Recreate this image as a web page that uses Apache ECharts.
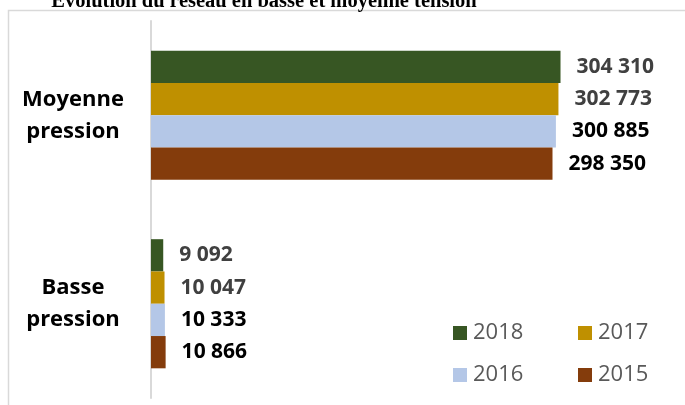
<!DOCTYPE html>
<html>
<head>
<meta charset="utf-8">
<script src="https://cdn.jsdelivr.net/npm/echarts@6/dist/echarts.min.js"></script>
<style>
    html, body { margin: 0; padding: 0; background: #fff; }
    #chart { width: 685px; height: 405px; }
</style>
</head>
<body>
<div id="chart"></div>
<script>
    let categories = ['Moyenne\npression', 'Basse\npression'];
    let years = ['2018', '2017', '2016', '2015'];
    let colors = ['#375623', '#bf9000', '#b4c7e7', '#843c0c'];
    let labelColors = ['#404040', '#404040', '#000000', '#000000'];
    let values2018 = [304310, 9092];
    let values2017 = [302773, 10047];
    let values2016 = [300885, 10333];
    let values2015 = [298350, 10866];
    let seriesValues = [values2018, values2017, values2016, values2015];

    let chart = echarts.init(document.getElementById('chart'));

    // format 304310 -> "304 310"
    function fmt(v) {
        return String(v).replace(/\B(?=(\d{3})+(?!\d))/g, ' ');
    }

    let series = years.map((name, i) => {
        return {
            name: name,
            type: 'bar',
            data: seriesValues[i],
            barGap: 0,
            barCategoryGap: '31.5%',
            itemStyle: { color: colors[i] },
            label: {
                show: true,
                position: 'right',
                distance: 16,
                color: labelColors[i],
                fontFamily: 'Open Sans',
                fontWeight: 'bold',
                fontSize: 21,
                formatter: (p) => fmt(p.value),
            },
        };
    });

    let legendText = {
        color: '#595959',
        fontFamily: 'Open Sans',
        fontSize: 22,
        padding: [0, 0, 0, 1],
    };

    let option = {
        animation: false,
        backgroundColor: '#fff',
        grid: {
            left: 151,
            right: 63,
            top: 21,
            bottom: 7,
            containLabel: false,
        },
        xAxis: {
            type: 'value',
            min: 0,
            max: 350000,
            show: false,
            splitLine: { show: false },
        },
        yAxis: {
            type: 'category',
            data: categories,
            inverse: true,
            axisLine: { lineStyle: { color: '#d9d9d9', width: 2 } },
            axisTick: { show: false },
            axisLabel: {
                margin: 78,
                align: 'center',
                color: '#000',
                fontFamily: 'Open Sans',
                fontWeight: 'bold',
                fontSize: 22,
                lineHeight: 32,
            },
        },
        legend: [
            {
                data: ['2018', '2016'],
                orient: 'vertical',
                left: 453,
                top: 322,
                padding: 0,
                itemWidth: 14,
                itemHeight: 14,
                itemGap: 20,
                icon: 'rect',
                textStyle: legendText,
            },
            {
                data: ['2017', '2015'],
                orient: 'vertical',
                left: 578,
                top: 322,
                padding: 0,
                itemWidth: 14,
                itemHeight: 14,
                itemGap: 20,
                icon: 'rect',
                textStyle: legendText,
            },
        ],
        graphic: [
            {
                type: 'rect',
                shape: { x: 8.5, y: 10.5, width: 720, height: 420 },
                style: { fill: null, stroke: '#d9d9d9', lineWidth: 1.5 },
                z: -1,
            },
            {
                type: 'text',
                x: 264,
                y: 2,
                style: {
                    text: 'Évolution du réseau en basse et moyenne tension',
                    fontFamily: 'Liberation Serif',
                    fontWeight: 'bold',
                    fontSize: 20.5,
                    fill: '#000',
                    align: 'center',
                    verticalAlign: 'middle',
                },
            },
        ],
        series: series,
    };

    chart.setOption(option);
</script>
</body>
</html>
